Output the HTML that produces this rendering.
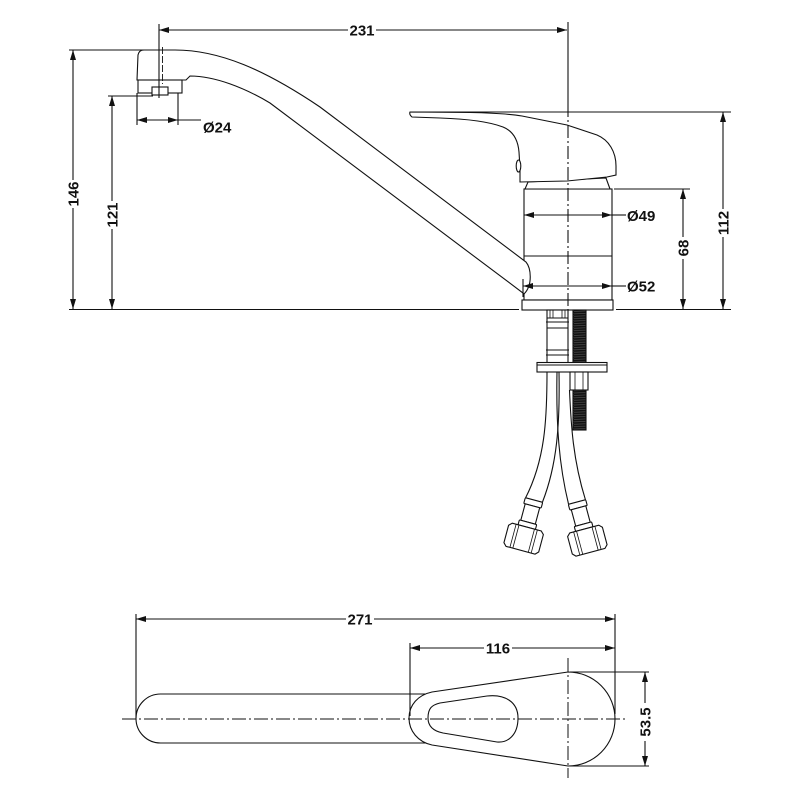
<!DOCTYPE html>
<html><head><meta charset="utf-8"><style>
html,body{margin:0;padding:0;background:#fff;}
svg{display:block;}
text{font-family:"Liberation Sans",Arial,sans-serif;font-weight:bold;font-size:15px;fill:#111;}
</style></head><body>
<svg width="800" height="800" viewBox="0 0 800 800" xmlns="http://www.w3.org/2000/svg">
<defs>
<marker id="a" viewBox="0 0 10 6" refX="10" refY="3" markerWidth="10" markerHeight="6" markerUnits="userSpaceOnUse" orient="auto-start-reverse"><path d="M0,0 L10,3 L0,6 z" fill="#111"/></marker>
<pattern id="thr" width="14" height="2.4" patternUnits="userSpaceOnUse"><rect width="14" height="2.4" fill="#111"/><line x1="0" y1="1.9" x2="14" y2="1.2" stroke="#5a5a5a" stroke-width="0.6"/></pattern>
</defs>
<rect width="800" height="800" fill="#fff"/>

<g fill="none" stroke="#111" stroke-width="1.1">
<!-- ===== SIDE VIEW ===== -->
<line x1="69" y1="309.5" x2="519" y2="309.5"/>
<line x1="616" y1="309.5" x2="731" y2="309.5"/>

<!-- body -->
<rect x="524" y="189" width="88" height="111" fill="#fff"/>
<line x1="524" y1="256" x2="612" y2="256"/>
<rect x="522" y="300" width="91" height="10" fill="#fff"/>
<polygon points="528,182 606,178 610,189 525,189" fill="#fff"/>

<!-- handle -->
<path d="M410,112 L470,112.5 C495,113 510,114 522,116 L567,125 L597,135 C609,140 616,152 616,166 L616,175 L607,177 L567,181 L520,182 L520,168 L519,152 C518,140 513,131 503,127 C490,122 470,119 440,118 L412,117 Q409,114.5 410,112 Z" fill="#fff"/>
<ellipse cx="518.5" cy="166" rx="2.3" ry="6" fill="#fff"/>
<line x1="410" y1="112" x2="731" y2="112"/>

<!-- spout -->
<path d="M137,80 L138,55 Q139,50 144,50 L175,50 C220,50 265,70 320,107 L526,262 C531,268 533,285 524,294 L523,293 L270,103 C245,88 215,76 190,76 L186,80 Z" fill="#fff"/>
<rect x="138" y="80" width="44" height="13" fill="#fff"/>
<rect x="152" y="87" width="16" height="8" fill="#fff"/>
<line x1="162.5" y1="47" x2="162.5" y2="84" stroke-width="0.9" stroke-dasharray="7 2"/>

<!-- centerline side view -->
<line x1="568" y1="22" x2="568" y2="104"/>
<line x1="568" y1="104" x2="568" y2="314" stroke-dasharray="13 3 2 3"/>

<!-- under-sink: fitting -->
<rect x="547" y="310" width="21" height="53" fill="#fff"/>
<line x1="547" y1="318" x2="568" y2="318"/>
<line x1="546" y1="322" x2="569" y2="322"/>
<line x1="547" y1="328" x2="568" y2="328"/>
<line x1="546" y1="350" x2="569" y2="350"/>
<line x1="546" y1="355" x2="569" y2="355"/>
<line x1="550" y1="310" x2="550" y2="318" stroke-width="0.8"/>
<line x1="553" y1="310" x2="553" y2="318" stroke-width="0.8"/>
<line x1="562" y1="310" x2="562" y2="318" stroke-width="0.8"/>
<line x1="565" y1="310" x2="565" y2="318" stroke-width="0.8"/>
<!-- threaded rod -->
<rect x="573" y="310" width="13" height="120" fill="url(#thr)" stroke="#111"/>
<!-- plate -->
<rect x="537" y="362.5" width="70" height="9.5" fill="#fff"/>
<line x1="537" y1="365" x2="607" y2="365"/>
<!-- nut -->
<rect x="570" y="372" width="18" height="18" fill="#fff"/>
<line x1="575" y1="372" x2="575" y2="390" stroke-width="0.8"/>
<line x1="583" y1="372" x2="583" y2="390" stroke-width="0.8"/>

<!-- hoses -->
<path d="M547,372 C547,420 545,460 525.5,498"/>
<path d="M559,372 C560,425 557,465 542.5,502"/>
<path d="M557,372 C556,425 559,465 568.5,504"/>
<path d="M569.5,390 C571,425 573,460 585.5,500"/>

<!-- fittings -->
<g transform="translate(534,500) rotate(15)" fill="#fff">
<rect x="-9" y="0" width="18" height="6" rx="1"/>
<rect x="-7.5" y="6" width="15" height="17"/>
<rect x="-9" y="23" width="18" height="5" rx="1"/>
<path d="M-15,28 L15,28 L18,31 L18,49 L15,52 L-15,52 L-18,49 L-18,31 Z"/>
<line x1="-11" y1="28" x2="-11" y2="52" stroke-width="0.8"/>
<line x1="-8" y1="28" x2="-8" y2="52" stroke-width="0.8"/>
<line x1="8" y1="28" x2="8" y2="52" stroke-width="0.8"/>
<line x1="11" y1="28" x2="11" y2="52" stroke-width="0.8"/>
</g>
<g transform="translate(577,502) rotate(-15)" fill="#fff">
<rect x="-9" y="0" width="18" height="6" rx="1"/>
<rect x="-7.5" y="6" width="15" height="17"/>
<rect x="-9" y="23" width="18" height="5" rx="1"/>
<path d="M-15,28 L15,28 L18,31 L18,49 L15,52 L-15,52 L-18,49 L-18,31 Z"/>
<line x1="-11" y1="28" x2="-11" y2="52" stroke-width="0.8"/>
<line x1="-8" y1="28" x2="-8" y2="52" stroke-width="0.8"/>
<line x1="8" y1="28" x2="8" y2="52" stroke-width="0.8"/>
<line x1="11" y1="28" x2="11" y2="52" stroke-width="0.8"/>
</g>

<!-- dimensions side view -->
<line x1="159" y1="24" x2="159" y2="98"/>
<line x1="159" y1="30" x2="567" y2="30" marker-start="url(#a)" marker-end="url(#a)"/>

<line x1="69" y1="50" x2="145" y2="50"/>
<line x1="73" y1="50" x2="73" y2="309" marker-start="url(#a)" marker-end="url(#a)"/>
<line x1="108" y1="96" x2="153" y2="96"/>
<line x1="112" y1="96" x2="112" y2="309" marker-start="url(#a)" marker-end="url(#a)"/>

<line x1="137" y1="93" x2="137" y2="125"/>
<line x1="178" y1="93" x2="178" y2="125"/>
<line x1="137" y1="120" x2="178" y2="120" marker-start="url(#a)" marker-end="url(#a)"/>
<line x1="178" y1="120" x2="201" y2="120"/>

<line x1="524" y1="215" x2="612" y2="215" marker-start="url(#a)" marker-end="url(#a)"/>
<line x1="612" y1="215" x2="626" y2="215"/>
<line x1="523" y1="279" x2="523" y2="297"/>
<line x1="523" y1="286" x2="612" y2="286" marker-start="url(#a)" marker-end="url(#a)"/>
<line x1="612" y1="286" x2="626" y2="286"/>

<line x1="614" y1="189" x2="690" y2="189"/>
<line x1="683" y1="189" x2="683" y2="309" marker-start="url(#a)" marker-end="url(#a)"/>
<line x1="723" y1="112" x2="723" y2="309" marker-start="url(#a)" marker-end="url(#a)"/>

<!-- ===== TOP VIEW ===== -->
<line x1="136" y1="614" x2="136" y2="718"/>
<line x1="615" y1="614" x2="615" y2="714"/>
<line x1="410" y1="643" x2="410" y2="716"/>
<line x1="136" y1="619" x2="615" y2="619" marker-start="url(#a)" marker-end="url(#a)"/>
<line x1="410" y1="648" x2="615" y2="648" marker-start="url(#a)" marker-end="url(#a)"/>

<path d="M426,694 L160.5,694 A24.5,24.5 0 0 0 160.5,743 L426,743"/>
<path d="M568,672 L432,692 C418,695 409,705 409,718 C409,731 418,742 432,745 L568,766 A47,47 0 0 0 568,672 Z"/>
<path d="M428,718 C428,708 432,705 440,703 L487,696 C505,694 518,702 518,718 C518,735 508,743 497,742 L443,733 C433,731 428,726 428,718 Z"/>

<line x1="122" y1="719" x2="628" y2="719" stroke-dasharray="14 3 2 3" stroke-width="1"/>
<line x1="568" y1="658" x2="568" y2="778" stroke-dasharray="14 3 2 3" stroke-width="1"/>

<line x1="570" y1="672" x2="649" y2="672"/>
<line x1="570" y1="766" x2="649" y2="766"/>
<line x1="645" y1="672" x2="645" y2="766" marker-start="url(#a)" marker-end="url(#a)"/>
</g>

<!-- text backgrounds -->
<g fill="#fff">
<rect x="348" y="22" width="28" height="16"/>
<rect x="65" y="180" width="16" height="28"/>
<rect x="104" y="201" width="16" height="28"/>
<rect x="675" y="237" width="16" height="22"/>
<rect x="715" y="209" width="16" height="28"/>
<rect x="346" y="611" width="28" height="16"/>
<rect x="484" y="640" width="28" height="16"/>
<rect x="637" y="703" width="16" height="38"/>
</g>

<!-- labels -->
<text x="362" y="35.5" text-anchor="middle">231</text>
<text transform="translate(78.5,194) rotate(-90)" text-anchor="middle">146</text>
<text transform="translate(117.5,215) rotate(-90)" text-anchor="middle">121</text>
<text x="203" y="132.5">Ø24</text>
<text x="627" y="221">Ø49</text>
<text x="627" y="291.5">Ø52</text>
<text transform="translate(688.5,248) rotate(-90)" text-anchor="middle">68</text>
<text transform="translate(728.5,223) rotate(-90)" text-anchor="middle">112</text>
<text x="360" y="624.5" text-anchor="middle">271</text>
<text x="498" y="653.5" text-anchor="middle">116</text>
<text transform="translate(650.5,722) rotate(-90)" text-anchor="middle">53.5</text>
</svg>
</body></html>
